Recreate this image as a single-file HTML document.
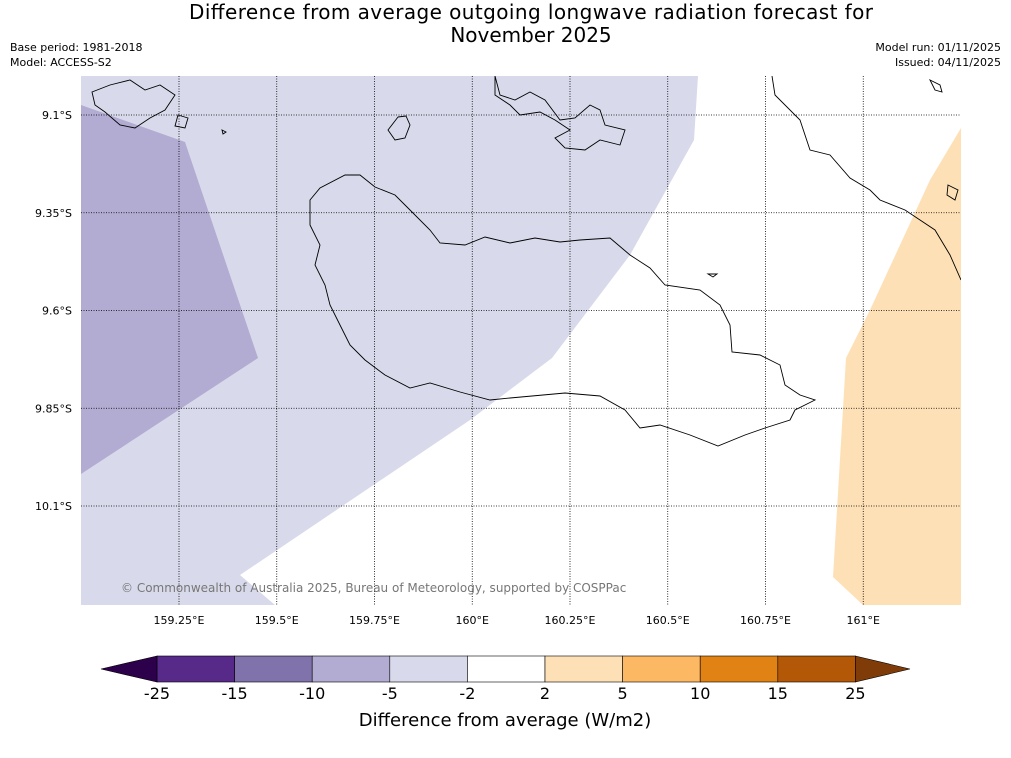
<!DOCTYPE html>
<html><head><meta charset="utf-8">
<style>
body{margin:0;background:#fff;font-family:"DejaVu Sans",sans-serif;}
#wrap{position:relative;width:1011px;height:758px;overflow:hidden;}
</style></head>
<body><div id="wrap">
<svg id="svg" width="1011" height="758" xmlns="http://www.w3.org/2000/svg" font-family="DejaVu Sans, sans-serif">
<text x="531" y="19" font-size="20" text-anchor="middle" textLength="684">Difference from average outgoing longwave radiation forecast for</text>
<text x="531" y="42" font-size="20" text-anchor="middle">November 2025</text>
<text x="10" y="51" font-size="11">Base period: 1981-2018</text>
<text x="10" y="66" font-size="11">Model: ACCESS-S2</text>
<text x="1001" y="51" font-size="11" text-anchor="end">Model run: 01/11/2025</text>
<text x="1001" y="66" font-size="11" text-anchor="end">Issued: 04/11/2025</text>
<defs><clipPath id="mapclip"><rect x="81" y="76" width="880" height="529"/></clipPath></defs>
<g id="map" clip-path="url(#mapclip)">
<rect x="81" y="76" width="880" height="529" fill="#fff"/>
<polygon fill="#d8daeb" points="81,76 698,76 694,140 630,255 552,358 470,420 240,575 275,605 81,605"/>
<polygon fill="#b2abd2" points="81,105 185,142 258,358 81,474"/>
<polygon fill="#fee0b6" points="961,128 930,180 870,310 846,358 833,577 863,605 961,605"/>
<g fill="none" stroke="#000" stroke-width="0.9">
<path d="M310,200 L320,188 345,175 360,175 375,187 395,195 410,210 430,230 440,243 465,245 485,237 510,243 535,238 560,242 580,240 610,238 630,255 650,268 665,285 700,290 720,305 730,325 732,352 760,355 780,365 785,385 800,395 815,400 795,410 790,420 765,428 745,435 718,446 690,435 660,425 640,428 625,410 600,396 565,393 510,398 490,400 460,392 430,383 410,388 385,375 365,360 350,345 340,325 330,305 325,285 315,265 320,245 310,225 Z"/>
<path d="M772,76 L775,95 800,120 810,150 830,155 850,178 870,190 880,200 905,210 935,230 950,255 961,280"/>
<path d="M398,117 L406,116 410,125 405,138 395,140 388,130 Z"/>
<path d="M495,76 L500,95 515,100 530,92 545,100 560,120 575,118 590,105 600,110 605,125 625,130 620,145 600,140 585,150 565,148 555,138 570,130 555,120 540,112 520,115 510,105 495,95 Z"/>
<path d="M92,92 L110,85 130,80 145,90 160,85 175,95 165,110 150,118 135,128 120,125 105,112 95,105 Z"/>
<path d="M178,115 L188,118 185,128 175,126 Z"/>
<path d="M222,130 L226,132 223,134 Z"/>
<path d="M708,274 L717,274 713,277 Z"/>
<path d="M930,80 L940,85 942,92 935,90 Z"/>
<path d="M948,185 L958,190 955,200 947,195 Z"/>
</g>
<g id="grid" stroke="#000" stroke-width="0.8" stroke-dasharray="1,1.5"></g>
</g>
<g id="xlabels" font-size="11" text-anchor="middle"></g>
<g id="ylabels" font-size="11" text-anchor="end"></g>
<text x="121" y="592" font-size="12" fill="#777">© Commonwealth of Australia 2025, Bureau of Meteorology, supported by COSPPac</text>
<g id="cbar"></g>
<text x="505" y="726" font-size="18" text-anchor="middle">Difference from average (W/m2)</text>
</svg>
</div>
<script>
const lonTicks=[159.25,159.5,159.75,160,160.25,160.5,160.75,161];
const lonLabels=["159.25°E","159.5°E","159.75°E","160°E","160.25°E","160.5°E","160.75°E","161°E"];
const latTicks=[9.1,9.35,9.6,9.85,10.1];
const latLabels=["9.1°S","9.35°S","9.6°S","9.85°S","10.1°S"];
const cbBounds=[-25,-15,-10,-5,-2,2,5,10,15,25];
const cbColors=["#572a8a","#8073ac","#b2abd2","#d8daeb","#ffffff","#fee0b6","#fdb863","#e08214","#b35806"];
const NS="http://www.w3.org/2000/svg";
const xs=lon=>179+(lon-159.25)/0.25*97.75;
const ys=lat=>115+(lat-9.1)/0.25*97.75;
function mk(t,a,p){const e=document.createElementNS(NS,t);for(const k in a)e.setAttribute(k,a[k]);p.appendChild(e);return e;}
const grid=document.getElementById('grid'),xl=document.getElementById('xlabels'),yl=document.getElementById('ylabels');
lonTicks.forEach((v,i)=>{const x=xs(v);
 const l=mk('line',{x1:x,x2:x,y1:76,y2:605},grid);
 
 
 const t=mk('text',{x:x,y:624},xl);t.textContent=lonLabels[i];
 
 });
latTicks.forEach((v,i)=>{const y=ys(v);
 const l=mk('line',{x1:81,x2:961,y1:y,y2:y},grid);
 
 
 const t=mk('text',{x:72,y:y+4},yl);t.textContent=latLabels[i];
 
 });
const cb=document.getElementById('cbar');
const cx0=157,cw=77.6,cy=656,ch=26;
cbColors.forEach((c,i)=>{const r=mk('rect',{x:cx0+i*cw,y:cy,width:cw,height:ch,fill:c,stroke:'#000','stroke-width':0.6},cb);
 
 });
const tl=mk('polygon',{points:`${cx0},${cy} 101,${cy+ch/2} ${cx0},${cy+ch}`,fill:'#2d004b',stroke:'#000','stroke-width':0.6},cb);


const xe=cx0+cbColors.length*cw;
const tr=mk('polygon',{points:`${xe},${cy} 910,${cy+ch/2} ${xe},${cy+ch}`,fill:'#7f3b08',stroke:'#000','stroke-width':0.6},cb);


cbBounds.forEach((b,i)=>{const t=mk('text',{x:cx0+i*cw,y:699,'font-size':16,'text-anchor':'middle'},cb);t.textContent=b;
 
 });
</script>
</body></html>
